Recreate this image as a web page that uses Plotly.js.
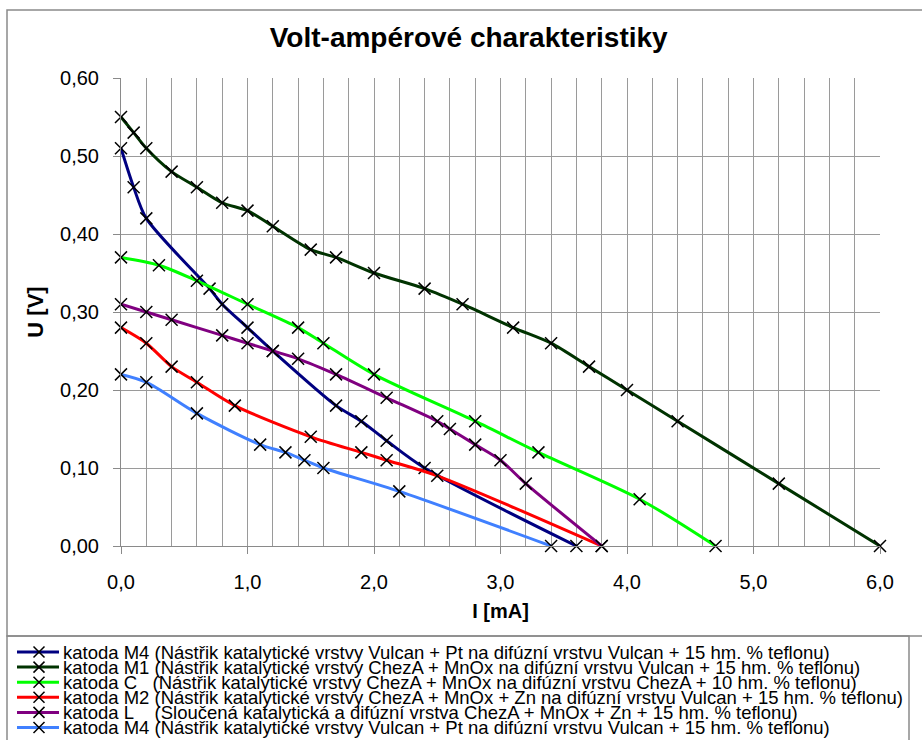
<!DOCTYPE html>
<html><head><meta charset="utf-8">
<script src="https://cdn.plot.ly/plotly-3.0.1.min.js"></script>
<style>html,body{margin:0;padding:0;background:#fff}#chart{width:922px;height:740px}</style>
</head><body><div id="chart"></div>
<script>
// ---- data ----
const seriesNames = [
  "katoda M4 (Nástřik katalytické vrstvy Vulcan + Pt na difúzní vrstvu Vulcan + 15 hm. % teflonu)",
  "katoda M1 (Nástřik katalytické vrstvy ChezA + MnOx na difúzní vrstvu Vulcan + 15 hm. % teflonu)",
  "katoda C   (Nástřik katalytické vrstvy ChezA + MnOx na difúzní vrstvu ChezA + 10 hm. % teflonu)",
  "katoda M2 (Nástřik katalytické vrstvy ChezA + MnOx + Zn na difúzní vrstvu Vulcan + 15 hm. % teflonu)",
  "katoda L    (Sloučená katalytická a difúzní vrstva ChezA + MnOx + Zn + 15 hm. % teflonu)",
  "katoda M4 (Nástřik katalytické vrstvy Vulcan + Pt na difúzní vrstvu Vulcan + 15 hm. % teflonu)"
];
const seriesColors = ["#000080", "#003300", "#00ff00", "#ff0000", "#800080", "#4080ff"];

const m4I = [0, 0.1, 0.2, 0.7, 0.8, 1.0, 1.2, 1.7, 1.9, 2.1, 2.4, 3.6];
const m4U = [0.51, 0.46, 0.42, 0.33, 0.31, 0.28, 0.25, 0.18, 0.16, 0.135, 0.10, 0.0];

const m1I = [0, 0.1, 0.2, 0.4, 0.6, 0.8, 1.0, 1.2, 1.5, 1.7, 2.0, 2.4, 2.7, 3.1, 3.4, 3.7, 4.0, 4.4, 5.2, 6.0];
const m1U = [0.55, 0.53, 0.51, 0.48, 0.46, 0.44, 0.43, 0.41, 0.38, 0.37, 0.35, 0.33, 0.31, 0.28, 0.26, 0.23, 0.20, 0.16, 0.08, 0.0];

const cI = [0, 0.3, 0.6, 1.0, 1.4, 1.6, 2.0, 2.8, 3.3, 4.1, 4.7];
const cU = [0.37, 0.36, 0.34, 0.31, 0.28, 0.26, 0.22, 0.16, 0.12, 0.06, 0.0];

const m2I = [0, 0.2, 0.4, 0.6, 0.9, 1.5, 1.9, 2.1, 2.5, 3.8];
const m2U = [0.28, 0.26, 0.23, 0.21, 0.18, 0.14, 0.12, 0.11, 0.09, 0.0];

const lI = [0, 0.2, 0.4, 0.8, 1.0, 1.2, 1.4, 1.7, 2.1, 2.5, 2.6, 2.8, 3.0, 3.2, 3.8];
const lU = [0.31, 0.30, 0.29, 0.27, 0.26, 0.25, 0.24, 0.22, 0.19, 0.16, 0.15, 0.13, 0.11, 0.08, 0.0];

const m4bI = [0, 0.2, 0.6, 1.1, 1.3, 1.45, 1.6, 2.2, 3.4];
const m4bU = [0.22, 0.21, 0.17, 0.13, 0.12, 0.11, 0.10, 0.07, 0.0];

const chartTitle = "Volt-ampérové charakteristiky";
const xTitle = "I [mA]";
const yTitle = "U [V]";

// ---- layout geometry ----
const W = 922, H = 740;
const M = {l: 121, r: 42, t: 78, b: 194};
const PW = W - M.l - M.r, PH = H - M.t - M.b;
const px = v => (v - M.l) / PW;          // pixel -> paper x
const py = v => (H - M.b - v) / PH;      // pixel -> paper y

const FONT = "Liberation Sans, Arial, sans-serif";
const seriesX = [m4I, m1I, cI, m2I, lI, m4bI];
const seriesY = [m4U, m1U, cU, m2U, lU, m4bU];

const traces = seriesX.map((xs, i) => ({
  type: "scatter", mode: "lines+markers",
  x: xs, y: seriesY[i], name: seriesNames[i],
  line: {color: seriesColors[i], width: 3, shape: "spline", smoothing: 0.8},
  marker: {symbol: "x-thin", size: 12, color: "#000", line: {color: "#000", width: 1.5}},
  cliponaxis: false
}));

const shapes = [];
const annotations = [];
// outer chart frame and legend box
shapes.push({type: "rect", xref: "paper", yref: "paper", x0: px(7), x1: px(935), y0: py(636), y1: py(10),
  line: {color: "#8a8a8a", width: 1.5}, fillcolor: "rgba(0,0,0,0)", layer: "below"});
shapes.push({type: "rect", xref: "paper", yref: "paper", x0: px(7), x1: px(909), y0: py(750), y1: py(636),
  line: {color: "#8a8a8a", width: 1.5}, fillcolor: "rgba(0,0,0,0)", layer: "below"});
// custom legend
const rowY0 = 652, rowStep = 15.1;
seriesNames.forEach((n, i) => {
  const yc = rowY0 + i * rowStep;
  shapes.push({type: "line", xref: "paper", yref: "paper", x0: px(17), x1: px(59), y0: py(yc), y1: py(yc),
    line: {color: seriesColors[i], width: 3}});
  const cx = 39, h = 5.5;
  shapes.push({type: "path", xref: "paper", yref: "paper",
    path: `M ${px(cx - h)} ${py(yc - h)} L ${px(cx + h)} ${py(yc + h)} M ${px(cx - h)} ${py(yc + h)} L ${px(cx + h)} ${py(yc - h)}`,
    line: {color: "#000", width: 1.5}});
  annotations.push({xref: "paper", yref: "paper", x: px(61), y: py(yc), xanchor: "left", yanchor: "middle",
    text: n.replace(/  +/g, m => "&nbsp;".repeat(m.length)), showarrow: false,
    font: {family: FONT, size: 18.5, color: "#000"}});
});

const axisCommon = {
  showline: true, linecolor: "#8a8a8a", linewidth: 1,
  showgrid: true, gridcolor: "#9a9a9a", gridwidth: 1,
  ticks: "outside", ticklen: 7, tickcolor: "#8a8a8a", tickwidth: 1,
  tickfont: {family: FONT, size: 20, color: "#000"},
  zeroline: false, mirror: false, automargin: false, fixedrange: true
};

const layout = {
  width: W, height: H,
  margin: M,
  paper_bgcolor: "#fff", plot_bgcolor: "#fff",
  separators: ", ",
  showlegend: false,
  font: {family: FONT, color: "#000"},
  title: {text: chartTitle, font: {family: FONT, size: 28, weight: "bold", color: "#000"},
    xref: "container", yref: "container", x: 468.7 / W, xanchor: "center", y: 1 - 37 / H, yanchor: "middle"},
  xaxis: Object.assign({}, axisCommon, {
    range: [0, 6], tick0: 0, dtick: 1, tickformat: ".1f", ticklabelstandoff: 11,
    minor: {dtick: 0.2, showgrid: true, gridcolor: "#9a9a9a", gridwidth: 1, ticks: ""},
    title: {text: xTitle, font: {family: FONT, size: 20, weight: "bold", color: "#000"}, standoff: 11}
  }),
  yaxis: Object.assign({}, axisCommon, {
    range: [0, 0.6], tick0: 0, dtick: 0.1, tickformat: ".2f", ticklabelstandoff: 10,
    title: {text: yTitle, font: {family: FONT, size: 22, weight: "bold", color: "#000"}, standoff: 10}
  }),
  shapes: shapes,
  annotations: annotations
};

Plotly.newPlot("chart", traces, layout, {displayModeBar: false, staticPlot: true});
</script>
</body></html>
